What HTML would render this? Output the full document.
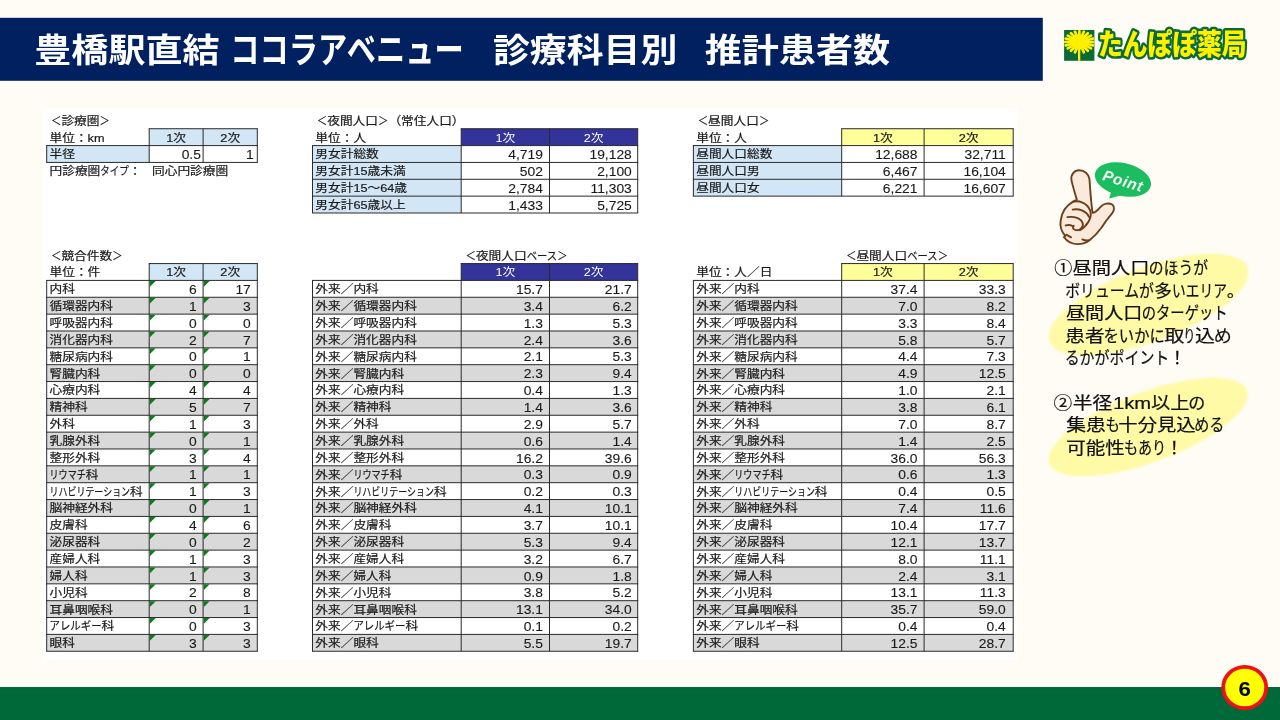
<!DOCTYPE html>
<html lang="ja"><head><meta charset="utf-8"><title>豊橋駅直結 ココラアベニュー 診療科目別 推計患者数</title>
<style>html,body{margin:0;padding:0;background:#FFFCF5;}body{width:1280px;height:720px;overflow:hidden;position:relative;font-family:'Liberation Sans','Noto Sans CJK JP',sans-serif;}svg{position:absolute;left:0;top:0;display:block}text{white-space:pre}</style>
</head><body>
<svg width="1280" height="720" viewBox="0 0 1280 720" font-family="'Liberation Sans','Noto Sans CJK JP',sans-serif">
<rect x="0" y="0" width="1280" height="720" fill="#FFFCF5"/>
<rect x="0" y="17.8" width="1042.8" height="63" fill="#002060"/>
<text x="34.3" y="62.0" font-size="33.50" font-weight="700" fill="#fff" textLength="185.3" lengthAdjust="spacingAndGlyphs">豊橋駅直結</text>
<text x="230.2" y="62.8" font-size="36.00" font-weight="700" fill="#fff" textLength="233.5" lengthAdjust="spacingAndGlyphs">ココラアベニュー</text>
<text x="492.9" y="62.0" font-size="33.50" font-weight="700" fill="#fff" textLength="184.4" lengthAdjust="spacingAndGlyphs">診療科目別</text>
<text x="704.7" y="62.0" font-size="33.50" font-weight="700" fill="#fff" textLength="185.5" lengthAdjust="spacingAndGlyphs">推計患者数</text>
<rect x="43" y="108.5" width="974.5" height="551.5" fill="#fff"/>
<rect x="149.20" y="128.72" width="108.10" height="16.86" fill="#D3E6F5"/>
<rect x="46.70" y="145.58" width="102.50" height="16.86" fill="#D3E6F5"/>
<rect x="461.20" y="128.72" width="176.50" height="16.86" fill="#333399"/>
<rect x="312.50" y="145.58" width="148.70" height="67.42" fill="#D3E6F5"/>
<rect x="841.70" y="128.72" width="171.50" height="16.86" fill="#FFFF99"/>
<rect x="693.40" y="145.58" width="148.30" height="50.57" fill="#D3E6F5"/>
<rect x="149.20" y="263.57" width="108.10" height="16.86" fill="#D3E6F5"/>
<rect x="461.20" y="263.57" width="176.50" height="16.86" fill="#333399"/>
<rect x="841.70" y="263.57" width="171.50" height="16.86" fill="#FFFF99"/>
<rect x="46.70" y="297.28" width="210.60" height="16.86" fill="#D9D9D9"/>
<rect x="312.50" y="297.28" width="325.20" height="16.86" fill="#D9D9D9"/>
<rect x="693.40" y="297.28" width="319.80" height="16.86" fill="#D9D9D9"/>
<rect x="46.70" y="330.99" width="210.60" height="16.86" fill="#D9D9D9"/>
<rect x="312.50" y="330.99" width="325.20" height="16.86" fill="#D9D9D9"/>
<rect x="693.40" y="330.99" width="319.80" height="16.86" fill="#D9D9D9"/>
<rect x="46.70" y="364.70" width="210.60" height="16.86" fill="#D9D9D9"/>
<rect x="312.50" y="364.70" width="325.20" height="16.86" fill="#D9D9D9"/>
<rect x="693.40" y="364.70" width="319.80" height="16.86" fill="#D9D9D9"/>
<rect x="46.70" y="398.42" width="210.60" height="16.86" fill="#D9D9D9"/>
<rect x="312.50" y="398.42" width="325.20" height="16.86" fill="#D9D9D9"/>
<rect x="693.40" y="398.42" width="319.80" height="16.86" fill="#D9D9D9"/>
<rect x="46.70" y="432.13" width="210.60" height="16.86" fill="#D9D9D9"/>
<rect x="312.50" y="432.13" width="325.20" height="16.86" fill="#D9D9D9"/>
<rect x="693.40" y="432.13" width="319.80" height="16.86" fill="#D9D9D9"/>
<rect x="46.70" y="465.84" width="210.60" height="16.86" fill="#D9D9D9"/>
<rect x="312.50" y="465.84" width="325.20" height="16.86" fill="#D9D9D9"/>
<rect x="693.40" y="465.84" width="319.80" height="16.86" fill="#D9D9D9"/>
<rect x="46.70" y="499.55" width="210.60" height="16.86" fill="#D9D9D9"/>
<rect x="312.50" y="499.55" width="325.20" height="16.86" fill="#D9D9D9"/>
<rect x="693.40" y="499.55" width="319.80" height="16.86" fill="#D9D9D9"/>
<rect x="46.70" y="533.26" width="210.60" height="16.86" fill="#D9D9D9"/>
<rect x="312.50" y="533.26" width="325.20" height="16.86" fill="#D9D9D9"/>
<rect x="693.40" y="533.26" width="319.80" height="16.86" fill="#D9D9D9"/>
<rect x="46.70" y="566.98" width="210.60" height="16.86" fill="#D9D9D9"/>
<rect x="312.50" y="566.98" width="325.20" height="16.86" fill="#D9D9D9"/>
<rect x="693.40" y="566.98" width="319.80" height="16.86" fill="#D9D9D9"/>
<rect x="46.70" y="600.69" width="210.60" height="16.86" fill="#D9D9D9"/>
<rect x="312.50" y="600.69" width="325.20" height="16.86" fill="#D9D9D9"/>
<rect x="693.40" y="600.69" width="319.80" height="16.86" fill="#D9D9D9"/>
<rect x="46.70" y="634.40" width="210.60" height="16.86" fill="#D9D9D9"/>
<rect x="312.50" y="634.40" width="325.20" height="16.86" fill="#D9D9D9"/>
<rect x="693.40" y="634.40" width="319.80" height="16.86" fill="#D9D9D9"/>
<line x1="46.20" y1="145.58" x2="257.80" y2="145.58" stroke="#2a2a2a" stroke-width="1.00"/>
<line x1="46.20" y1="162.43" x2="257.80" y2="162.43" stroke="#2a2a2a" stroke-width="1.00"/>
<line x1="46.70" y1="145.58" x2="46.70" y2="162.43" stroke="#2a2a2a" stroke-width="1.00"/>
<line x1="149.20" y1="145.58" x2="149.20" y2="162.43" stroke="#2a2a2a" stroke-width="1.00"/>
<line x1="203.10" y1="145.58" x2="203.10" y2="162.43" stroke="#2a2a2a" stroke-width="1.00"/>
<line x1="257.30" y1="145.58" x2="257.30" y2="162.43" stroke="#2a2a2a" stroke-width="1.00"/>
<line x1="148.70" y1="128.72" x2="257.80" y2="128.72" stroke="#2a2a2a" stroke-width="1.00"/>
<line x1="149.20" y1="128.72" x2="149.20" y2="145.58" stroke="#2a2a2a" stroke-width="1.00"/>
<line x1="203.10" y1="128.72" x2="203.10" y2="145.58" stroke="#2a2a2a" stroke-width="1.00"/>
<line x1="257.30" y1="128.72" x2="257.30" y2="145.58" stroke="#2a2a2a" stroke-width="1.00"/>
<line x1="312.00" y1="145.58" x2="638.20" y2="145.58" stroke="#2a2a2a" stroke-width="1.00"/>
<line x1="312.00" y1="162.43" x2="638.20" y2="162.43" stroke="#2a2a2a" stroke-width="1.00"/>
<line x1="312.00" y1="179.29" x2="638.20" y2="179.29" stroke="#2a2a2a" stroke-width="1.00"/>
<line x1="312.00" y1="196.14" x2="638.20" y2="196.14" stroke="#2a2a2a" stroke-width="1.00"/>
<line x1="312.00" y1="213.00" x2="638.20" y2="213.00" stroke="#2a2a2a" stroke-width="1.00"/>
<line x1="312.50" y1="145.58" x2="312.50" y2="213.00" stroke="#2a2a2a" stroke-width="1.00"/>
<line x1="461.20" y1="145.58" x2="461.20" y2="213.00" stroke="#2a2a2a" stroke-width="1.00"/>
<line x1="549.50" y1="145.58" x2="549.50" y2="213.00" stroke="#2a2a2a" stroke-width="1.00"/>
<line x1="637.70" y1="145.58" x2="637.70" y2="213.00" stroke="#2a2a2a" stroke-width="1.00"/>
<line x1="460.70" y1="128.72" x2="638.20" y2="128.72" stroke="#2a2a2a" stroke-width="1.00"/>
<line x1="461.20" y1="128.72" x2="461.20" y2="145.58" stroke="#2a2a2a" stroke-width="1.00"/>
<line x1="549.50" y1="128.72" x2="549.50" y2="145.58" stroke="#2a2a2a" stroke-width="1.00"/>
<line x1="637.70" y1="128.72" x2="637.70" y2="145.58" stroke="#2a2a2a" stroke-width="1.00"/>
<line x1="692.90" y1="145.58" x2="1013.70" y2="145.58" stroke="#2a2a2a" stroke-width="1.00"/>
<line x1="692.90" y1="162.43" x2="1013.70" y2="162.43" stroke="#2a2a2a" stroke-width="1.00"/>
<line x1="692.90" y1="179.29" x2="1013.70" y2="179.29" stroke="#2a2a2a" stroke-width="1.00"/>
<line x1="692.90" y1="196.14" x2="1013.70" y2="196.14" stroke="#2a2a2a" stroke-width="1.00"/>
<line x1="693.40" y1="145.58" x2="693.40" y2="196.14" stroke="#2a2a2a" stroke-width="1.00"/>
<line x1="841.70" y1="145.58" x2="841.70" y2="196.14" stroke="#2a2a2a" stroke-width="1.00"/>
<line x1="924.10" y1="145.58" x2="924.10" y2="196.14" stroke="#2a2a2a" stroke-width="1.00"/>
<line x1="1013.20" y1="145.58" x2="1013.20" y2="196.14" stroke="#2a2a2a" stroke-width="1.00"/>
<line x1="841.20" y1="128.72" x2="1013.70" y2="128.72" stroke="#2a2a2a" stroke-width="1.00"/>
<line x1="841.70" y1="128.72" x2="841.70" y2="145.58" stroke="#2a2a2a" stroke-width="1.00"/>
<line x1="924.10" y1="128.72" x2="924.10" y2="145.58" stroke="#2a2a2a" stroke-width="1.00"/>
<line x1="1013.20" y1="128.72" x2="1013.20" y2="145.58" stroke="#2a2a2a" stroke-width="1.00"/>
<line x1="46.20" y1="280.42" x2="257.80" y2="280.42" stroke="#2a2a2a" stroke-width="1.00"/>
<line x1="46.20" y1="297.28" x2="257.80" y2="297.28" stroke="#2a2a2a" stroke-width="1.00"/>
<line x1="46.20" y1="314.14" x2="257.80" y2="314.14" stroke="#2a2a2a" stroke-width="1.00"/>
<line x1="46.20" y1="330.99" x2="257.80" y2="330.99" stroke="#2a2a2a" stroke-width="1.00"/>
<line x1="46.20" y1="347.85" x2="257.80" y2="347.85" stroke="#2a2a2a" stroke-width="1.00"/>
<line x1="46.20" y1="364.70" x2="257.80" y2="364.70" stroke="#2a2a2a" stroke-width="1.00"/>
<line x1="46.20" y1="381.56" x2="257.80" y2="381.56" stroke="#2a2a2a" stroke-width="1.00"/>
<line x1="46.20" y1="398.42" x2="257.80" y2="398.42" stroke="#2a2a2a" stroke-width="1.00"/>
<line x1="46.20" y1="415.27" x2="257.80" y2="415.27" stroke="#2a2a2a" stroke-width="1.00"/>
<line x1="46.20" y1="432.13" x2="257.80" y2="432.13" stroke="#2a2a2a" stroke-width="1.00"/>
<line x1="46.20" y1="448.98" x2="257.80" y2="448.98" stroke="#2a2a2a" stroke-width="1.00"/>
<line x1="46.20" y1="465.84" x2="257.80" y2="465.84" stroke="#2a2a2a" stroke-width="1.00"/>
<line x1="46.20" y1="482.70" x2="257.80" y2="482.70" stroke="#2a2a2a" stroke-width="1.00"/>
<line x1="46.20" y1="499.55" x2="257.80" y2="499.55" stroke="#2a2a2a" stroke-width="1.00"/>
<line x1="46.20" y1="516.41" x2="257.80" y2="516.41" stroke="#2a2a2a" stroke-width="1.00"/>
<line x1="46.20" y1="533.26" x2="257.80" y2="533.26" stroke="#2a2a2a" stroke-width="1.00"/>
<line x1="46.20" y1="550.12" x2="257.80" y2="550.12" stroke="#2a2a2a" stroke-width="1.00"/>
<line x1="46.20" y1="566.98" x2="257.80" y2="566.98" stroke="#2a2a2a" stroke-width="1.00"/>
<line x1="46.20" y1="583.83" x2="257.80" y2="583.83" stroke="#2a2a2a" stroke-width="1.00"/>
<line x1="46.20" y1="600.69" x2="257.80" y2="600.69" stroke="#2a2a2a" stroke-width="1.00"/>
<line x1="46.20" y1="617.54" x2="257.80" y2="617.54" stroke="#2a2a2a" stroke-width="1.00"/>
<line x1="46.20" y1="634.40" x2="257.80" y2="634.40" stroke="#2a2a2a" stroke-width="1.00"/>
<line x1="46.20" y1="651.26" x2="257.80" y2="651.26" stroke="#2a2a2a" stroke-width="1.00"/>
<line x1="46.70" y1="280.42" x2="46.70" y2="651.26" stroke="#2a2a2a" stroke-width="1.00"/>
<line x1="149.20" y1="280.42" x2="149.20" y2="651.26" stroke="#2a2a2a" stroke-width="1.00"/>
<line x1="203.10" y1="280.42" x2="203.10" y2="651.26" stroke="#2a2a2a" stroke-width="1.00"/>
<line x1="257.30" y1="280.42" x2="257.30" y2="651.26" stroke="#2a2a2a" stroke-width="1.00"/>
<line x1="148.70" y1="263.57" x2="257.80" y2="263.57" stroke="#2a2a2a" stroke-width="1.00"/>
<line x1="149.20" y1="263.57" x2="149.20" y2="280.42" stroke="#2a2a2a" stroke-width="1.00"/>
<line x1="203.10" y1="263.57" x2="203.10" y2="280.42" stroke="#2a2a2a" stroke-width="1.00"/>
<line x1="257.30" y1="263.57" x2="257.30" y2="280.42" stroke="#2a2a2a" stroke-width="1.00"/>
<line x1="312.00" y1="280.42" x2="638.20" y2="280.42" stroke="#2a2a2a" stroke-width="1.00"/>
<line x1="312.00" y1="297.28" x2="638.20" y2="297.28" stroke="#2a2a2a" stroke-width="1.00"/>
<line x1="312.00" y1="314.14" x2="638.20" y2="314.14" stroke="#2a2a2a" stroke-width="1.00"/>
<line x1="312.00" y1="330.99" x2="638.20" y2="330.99" stroke="#2a2a2a" stroke-width="1.00"/>
<line x1="312.00" y1="347.85" x2="638.20" y2="347.85" stroke="#2a2a2a" stroke-width="1.00"/>
<line x1="312.00" y1="364.70" x2="638.20" y2="364.70" stroke="#2a2a2a" stroke-width="1.00"/>
<line x1="312.00" y1="381.56" x2="638.20" y2="381.56" stroke="#2a2a2a" stroke-width="1.00"/>
<line x1="312.00" y1="398.42" x2="638.20" y2="398.42" stroke="#2a2a2a" stroke-width="1.00"/>
<line x1="312.00" y1="415.27" x2="638.20" y2="415.27" stroke="#2a2a2a" stroke-width="1.00"/>
<line x1="312.00" y1="432.13" x2="638.20" y2="432.13" stroke="#2a2a2a" stroke-width="1.00"/>
<line x1="312.00" y1="448.98" x2="638.20" y2="448.98" stroke="#2a2a2a" stroke-width="1.00"/>
<line x1="312.00" y1="465.84" x2="638.20" y2="465.84" stroke="#2a2a2a" stroke-width="1.00"/>
<line x1="312.00" y1="482.70" x2="638.20" y2="482.70" stroke="#2a2a2a" stroke-width="1.00"/>
<line x1="312.00" y1="499.55" x2="638.20" y2="499.55" stroke="#2a2a2a" stroke-width="1.00"/>
<line x1="312.00" y1="516.41" x2="638.20" y2="516.41" stroke="#2a2a2a" stroke-width="1.00"/>
<line x1="312.00" y1="533.26" x2="638.20" y2="533.26" stroke="#2a2a2a" stroke-width="1.00"/>
<line x1="312.00" y1="550.12" x2="638.20" y2="550.12" stroke="#2a2a2a" stroke-width="1.00"/>
<line x1="312.00" y1="566.98" x2="638.20" y2="566.98" stroke="#2a2a2a" stroke-width="1.00"/>
<line x1="312.00" y1="583.83" x2="638.20" y2="583.83" stroke="#2a2a2a" stroke-width="1.00"/>
<line x1="312.00" y1="600.69" x2="638.20" y2="600.69" stroke="#2a2a2a" stroke-width="1.00"/>
<line x1="312.00" y1="617.54" x2="638.20" y2="617.54" stroke="#2a2a2a" stroke-width="1.00"/>
<line x1="312.00" y1="634.40" x2="638.20" y2="634.40" stroke="#2a2a2a" stroke-width="1.00"/>
<line x1="312.00" y1="651.26" x2="638.20" y2="651.26" stroke="#2a2a2a" stroke-width="1.00"/>
<line x1="312.50" y1="280.42" x2="312.50" y2="651.26" stroke="#2a2a2a" stroke-width="1.00"/>
<line x1="461.20" y1="280.42" x2="461.20" y2="651.26" stroke="#2a2a2a" stroke-width="1.00"/>
<line x1="549.50" y1="280.42" x2="549.50" y2="651.26" stroke="#2a2a2a" stroke-width="1.00"/>
<line x1="637.70" y1="280.42" x2="637.70" y2="651.26" stroke="#2a2a2a" stroke-width="1.00"/>
<line x1="460.70" y1="263.57" x2="638.20" y2="263.57" stroke="#2a2a2a" stroke-width="1.00"/>
<line x1="461.20" y1="263.57" x2="461.20" y2="280.42" stroke="#2a2a2a" stroke-width="1.00"/>
<line x1="549.50" y1="263.57" x2="549.50" y2="280.42" stroke="#2a2a2a" stroke-width="1.00"/>
<line x1="637.70" y1="263.57" x2="637.70" y2="280.42" stroke="#2a2a2a" stroke-width="1.00"/>
<line x1="692.90" y1="280.42" x2="1013.70" y2="280.42" stroke="#2a2a2a" stroke-width="1.00"/>
<line x1="692.90" y1="297.28" x2="1013.70" y2="297.28" stroke="#2a2a2a" stroke-width="1.00"/>
<line x1="692.90" y1="314.14" x2="1013.70" y2="314.14" stroke="#2a2a2a" stroke-width="1.00"/>
<line x1="692.90" y1="330.99" x2="1013.70" y2="330.99" stroke="#2a2a2a" stroke-width="1.00"/>
<line x1="692.90" y1="347.85" x2="1013.70" y2="347.85" stroke="#2a2a2a" stroke-width="1.00"/>
<line x1="692.90" y1="364.70" x2="1013.70" y2="364.70" stroke="#2a2a2a" stroke-width="1.00"/>
<line x1="692.90" y1="381.56" x2="1013.70" y2="381.56" stroke="#2a2a2a" stroke-width="1.00"/>
<line x1="692.90" y1="398.42" x2="1013.70" y2="398.42" stroke="#2a2a2a" stroke-width="1.00"/>
<line x1="692.90" y1="415.27" x2="1013.70" y2="415.27" stroke="#2a2a2a" stroke-width="1.00"/>
<line x1="692.90" y1="432.13" x2="1013.70" y2="432.13" stroke="#2a2a2a" stroke-width="1.00"/>
<line x1="692.90" y1="448.98" x2="1013.70" y2="448.98" stroke="#2a2a2a" stroke-width="1.00"/>
<line x1="692.90" y1="465.84" x2="1013.70" y2="465.84" stroke="#2a2a2a" stroke-width="1.00"/>
<line x1="692.90" y1="482.70" x2="1013.70" y2="482.70" stroke="#2a2a2a" stroke-width="1.00"/>
<line x1="692.90" y1="499.55" x2="1013.70" y2="499.55" stroke="#2a2a2a" stroke-width="1.00"/>
<line x1="692.90" y1="516.41" x2="1013.70" y2="516.41" stroke="#2a2a2a" stroke-width="1.00"/>
<line x1="692.90" y1="533.26" x2="1013.70" y2="533.26" stroke="#2a2a2a" stroke-width="1.00"/>
<line x1="692.90" y1="550.12" x2="1013.70" y2="550.12" stroke="#2a2a2a" stroke-width="1.00"/>
<line x1="692.90" y1="566.98" x2="1013.70" y2="566.98" stroke="#2a2a2a" stroke-width="1.00"/>
<line x1="692.90" y1="583.83" x2="1013.70" y2="583.83" stroke="#2a2a2a" stroke-width="1.00"/>
<line x1="692.90" y1="600.69" x2="1013.70" y2="600.69" stroke="#2a2a2a" stroke-width="1.00"/>
<line x1="692.90" y1="617.54" x2="1013.70" y2="617.54" stroke="#2a2a2a" stroke-width="1.00"/>
<line x1="692.90" y1="634.40" x2="1013.70" y2="634.40" stroke="#2a2a2a" stroke-width="1.00"/>
<line x1="692.90" y1="651.26" x2="1013.70" y2="651.26" stroke="#2a2a2a" stroke-width="1.00"/>
<line x1="693.40" y1="280.42" x2="693.40" y2="651.26" stroke="#2a2a2a" stroke-width="1.00"/>
<line x1="841.70" y1="280.42" x2="841.70" y2="651.26" stroke="#2a2a2a" stroke-width="1.00"/>
<line x1="924.10" y1="280.42" x2="924.10" y2="651.26" stroke="#2a2a2a" stroke-width="1.00"/>
<line x1="1013.20" y1="280.42" x2="1013.20" y2="651.26" stroke="#2a2a2a" stroke-width="1.00"/>
<line x1="841.20" y1="263.57" x2="1013.70" y2="263.57" stroke="#2a2a2a" stroke-width="1.00"/>
<line x1="841.70" y1="263.57" x2="841.70" y2="280.42" stroke="#2a2a2a" stroke-width="1.00"/>
<line x1="924.10" y1="263.57" x2="924.10" y2="280.42" stroke="#2a2a2a" stroke-width="1.00"/>
<line x1="1013.20" y1="263.57" x2="1013.20" y2="280.42" stroke="#2a2a2a" stroke-width="1.00"/>
<path d="M149.70 280.92 h6 l-6 6z" fill="#0d7a1e"/>
<path d="M203.60 280.92 h6 l-6 6z" fill="#0d7a1e"/>
<path d="M149.70 297.78 h6 l-6 6z" fill="#0d7a1e"/>
<path d="M203.60 297.78 h6 l-6 6z" fill="#0d7a1e"/>
<path d="M149.70 314.64 h6 l-6 6z" fill="#0d7a1e"/>
<path d="M203.60 314.64 h6 l-6 6z" fill="#0d7a1e"/>
<path d="M149.70 331.49 h6 l-6 6z" fill="#0d7a1e"/>
<path d="M203.60 331.49 h6 l-6 6z" fill="#0d7a1e"/>
<path d="M149.70 348.35 h6 l-6 6z" fill="#0d7a1e"/>
<path d="M203.60 348.35 h6 l-6 6z" fill="#0d7a1e"/>
<path d="M149.70 365.20 h6 l-6 6z" fill="#0d7a1e"/>
<path d="M203.60 365.20 h6 l-6 6z" fill="#0d7a1e"/>
<path d="M149.70 382.06 h6 l-6 6z" fill="#0d7a1e"/>
<path d="M203.60 382.06 h6 l-6 6z" fill="#0d7a1e"/>
<path d="M149.70 398.92 h6 l-6 6z" fill="#0d7a1e"/>
<path d="M203.60 398.92 h6 l-6 6z" fill="#0d7a1e"/>
<path d="M149.70 415.77 h6 l-6 6z" fill="#0d7a1e"/>
<path d="M203.60 415.77 h6 l-6 6z" fill="#0d7a1e"/>
<path d="M149.70 432.63 h6 l-6 6z" fill="#0d7a1e"/>
<path d="M203.60 432.63 h6 l-6 6z" fill="#0d7a1e"/>
<path d="M149.70 449.48 h6 l-6 6z" fill="#0d7a1e"/>
<path d="M203.60 449.48 h6 l-6 6z" fill="#0d7a1e"/>
<path d="M149.70 466.34 h6 l-6 6z" fill="#0d7a1e"/>
<path d="M203.60 466.34 h6 l-6 6z" fill="#0d7a1e"/>
<path d="M149.70 483.20 h6 l-6 6z" fill="#0d7a1e"/>
<path d="M203.60 483.20 h6 l-6 6z" fill="#0d7a1e"/>
<path d="M149.70 500.05 h6 l-6 6z" fill="#0d7a1e"/>
<path d="M203.60 500.05 h6 l-6 6z" fill="#0d7a1e"/>
<path d="M149.70 516.91 h6 l-6 6z" fill="#0d7a1e"/>
<path d="M203.60 516.91 h6 l-6 6z" fill="#0d7a1e"/>
<path d="M149.70 533.76 h6 l-6 6z" fill="#0d7a1e"/>
<path d="M203.60 533.76 h6 l-6 6z" fill="#0d7a1e"/>
<path d="M149.70 550.62 h6 l-6 6z" fill="#0d7a1e"/>
<path d="M203.60 550.62 h6 l-6 6z" fill="#0d7a1e"/>
<path d="M149.70 567.48 h6 l-6 6z" fill="#0d7a1e"/>
<path d="M203.60 567.48 h6 l-6 6z" fill="#0d7a1e"/>
<path d="M149.70 584.33 h6 l-6 6z" fill="#0d7a1e"/>
<path d="M203.60 584.33 h6 l-6 6z" fill="#0d7a1e"/>
<path d="M149.70 601.19 h6 l-6 6z" fill="#0d7a1e"/>
<path d="M203.60 601.19 h6 l-6 6z" fill="#0d7a1e"/>
<path d="M149.70 618.04 h6 l-6 6z" fill="#0d7a1e"/>
<path d="M203.60 618.04 h6 l-6 6z" fill="#0d7a1e"/>
<path d="M149.70 634.90 h6 l-6 6z" fill="#0d7a1e"/>
<path d="M203.60 634.90 h6 l-6 6z" fill="#0d7a1e"/>
<text transform="translate(51.00 124.76) scale(1.0948 1)" font-size="11.60" fill="#1a1a1a" stroke="#1a1a1a" stroke-width="0.20"><tspan textLength="9.51" lengthAdjust="spacingAndGlyphs">＜</tspan>診療圏<tspan textLength="9.51" lengthAdjust="spacingAndGlyphs">＞</tspan></text>
<text transform="translate(49.50 141.62) scale(1.0948 1)" font-size="11.60" fill="#1a1a1a" stroke="#1a1a1a" stroke-width="0.20">単位：km</text>
<text transform="translate(176.15 141.62) scale(1.0948 1)" font-size="11.60" fill="#1a1a1a" stroke="#1a1a1a" stroke-width="0.20" text-anchor="middle">1次</text>
<text transform="translate(230.20 141.62) scale(1.0948 1)" font-size="11.60" fill="#1a1a1a" stroke="#1a1a1a" stroke-width="0.20" text-anchor="middle">2次</text>
<text transform="translate(49.50 158.48) scale(1.0948 1)" font-size="11.60" fill="#1a1a1a" stroke="#1a1a1a" stroke-width="0.20">半径</text>
<text transform="translate(200.90 159.18) scale(1.100 1)" font-size="12.60" fill="#1a1a1a" stroke="#1a1a1a" stroke-width="0.10" text-anchor="end">0.5</text>
<text transform="translate(253.70 159.18) scale(1.100 1)" font-size="12.60" fill="#1a1a1a" stroke="#1a1a1a" stroke-width="0.10" text-anchor="end">1</text>
<text transform="translate(49.50 175.33) scale(1.0948 1)" font-size="11.60" fill="#1a1a1a" stroke="#1a1a1a" stroke-width="0.20">円診療圏<tspan textLength="26.10" lengthAdjust="spacingAndGlyphs">タイプ</tspan>：</text>
<text transform="translate(152.00 175.33) scale(1.0948 1)" font-size="11.60" fill="#1a1a1a" stroke="#1a1a1a" stroke-width="0.20">同心円診療圏</text>
<text transform="translate(316.80 124.76) scale(1.0948 1)" font-size="11.60" fill="#1a1a1a" stroke="#1a1a1a" stroke-width="0.20"><tspan textLength="9.51" lengthAdjust="spacingAndGlyphs">＜</tspan>夜間人口<tspan textLength="9.51" lengthAdjust="spacingAndGlyphs">＞</tspan>（常住人口）</text>
<text transform="translate(315.30 141.62) scale(1.0948 1)" font-size="11.60" fill="#1a1a1a" stroke="#1a1a1a" stroke-width="0.20">単位：人</text>
<text transform="translate(505.35 141.62) scale(1.0948 1)" font-size="11.60" fill="#fff" stroke="#fff" stroke-width="0.00" text-anchor="middle">1次</text>
<text transform="translate(593.60 141.62) scale(1.0948 1)" font-size="11.60" fill="#fff" stroke="#fff" stroke-width="0.00" text-anchor="middle">2次</text>
<text transform="translate(315.30 158.48) scale(1.0948 1)" font-size="11.60" fill="#1a1a1a" stroke="#1a1a1a" stroke-width="0.20">男女計総数</text>
<text transform="translate(542.90 159.18) scale(1.100 1)" font-size="12.60" fill="#1a1a1a" stroke="#1a1a1a" stroke-width="0.10" text-anchor="end">4,719</text>
<text transform="translate(631.80 159.18) scale(1.100 1)" font-size="12.60" fill="#1a1a1a" stroke="#1a1a1a" stroke-width="0.10" text-anchor="end">19,128</text>
<text transform="translate(315.30 175.33) scale(1.0948 1)" font-size="11.60" fill="#1a1a1a" stroke="#1a1a1a" stroke-width="0.20">男女計15歳未満</text>
<text transform="translate(542.90 176.03) scale(1.100 1)" font-size="12.60" fill="#1a1a1a" stroke="#1a1a1a" stroke-width="0.10" text-anchor="end">502</text>
<text transform="translate(631.80 176.03) scale(1.100 1)" font-size="12.60" fill="#1a1a1a" stroke="#1a1a1a" stroke-width="0.10" text-anchor="end">2,100</text>
<text transform="translate(315.30 192.19) scale(1.0948 1)" font-size="11.60" fill="#1a1a1a" stroke="#1a1a1a" stroke-width="0.20">男女計15～64歳</text>
<text transform="translate(542.90 192.89) scale(1.100 1)" font-size="12.60" fill="#1a1a1a" stroke="#1a1a1a" stroke-width="0.10" text-anchor="end">2,784</text>
<text transform="translate(631.80 192.89) scale(1.100 1)" font-size="12.60" fill="#1a1a1a" stroke="#1a1a1a" stroke-width="0.10" text-anchor="end">11,303</text>
<text transform="translate(315.30 209.04) scale(1.0948 1)" font-size="11.60" fill="#1a1a1a" stroke="#1a1a1a" stroke-width="0.20">男女計65歳以上</text>
<text transform="translate(542.90 209.74) scale(1.100 1)" font-size="12.60" fill="#1a1a1a" stroke="#1a1a1a" stroke-width="0.10" text-anchor="end">1,433</text>
<text transform="translate(631.80 209.74) scale(1.100 1)" font-size="12.60" fill="#1a1a1a" stroke="#1a1a1a" stroke-width="0.10" text-anchor="end">5,725</text>
<text transform="translate(697.70 124.76) scale(1.0948 1)" font-size="11.60" fill="#1a1a1a" stroke="#1a1a1a" stroke-width="0.20"><tspan textLength="9.51" lengthAdjust="spacingAndGlyphs">＜</tspan>昼間人口<tspan textLength="9.51" lengthAdjust="spacingAndGlyphs">＞</tspan></text>
<text transform="translate(696.20 141.62) scale(1.0948 1)" font-size="11.60" fill="#1a1a1a" stroke="#1a1a1a" stroke-width="0.20">単位：人</text>
<text transform="translate(882.90 141.62) scale(1.0948 1)" font-size="11.60" fill="#1a1a1a" stroke="#1a1a1a" stroke-width="0.20" text-anchor="middle">1次</text>
<text transform="translate(968.65 141.62) scale(1.0948 1)" font-size="11.60" fill="#1a1a1a" stroke="#1a1a1a" stroke-width="0.20" text-anchor="middle">2次</text>
<text transform="translate(696.20 158.48) scale(1.0948 1)" font-size="11.60" fill="#1a1a1a" stroke="#1a1a1a" stroke-width="0.20">昼間人口総数</text>
<text transform="translate(917.50 159.18) scale(1.100 1)" font-size="12.60" fill="#1a1a1a" stroke="#1a1a1a" stroke-width="0.10" text-anchor="end">12,688</text>
<text transform="translate(1005.80 159.18) scale(1.100 1)" font-size="12.60" fill="#1a1a1a" stroke="#1a1a1a" stroke-width="0.10" text-anchor="end">32,711</text>
<text transform="translate(696.20 175.33) scale(1.0948 1)" font-size="11.60" fill="#1a1a1a" stroke="#1a1a1a" stroke-width="0.20">昼間人口男</text>
<text transform="translate(917.50 176.03) scale(1.100 1)" font-size="12.60" fill="#1a1a1a" stroke="#1a1a1a" stroke-width="0.10" text-anchor="end">6,467</text>
<text transform="translate(1005.80 176.03) scale(1.100 1)" font-size="12.60" fill="#1a1a1a" stroke="#1a1a1a" stroke-width="0.10" text-anchor="end">16,104</text>
<text transform="translate(696.20 192.19) scale(1.0948 1)" font-size="11.60" fill="#1a1a1a" stroke="#1a1a1a" stroke-width="0.20">昼間人口女</text>
<text transform="translate(917.50 192.89) scale(1.100 1)" font-size="12.60" fill="#1a1a1a" stroke="#1a1a1a" stroke-width="0.10" text-anchor="end">6,221</text>
<text transform="translate(1005.80 192.89) scale(1.100 1)" font-size="12.60" fill="#1a1a1a" stroke="#1a1a1a" stroke-width="0.10" text-anchor="end">16,607</text>
<text transform="translate(51.00 259.61) scale(1.0948 1)" font-size="11.60" fill="#1a1a1a" stroke="#1a1a1a" stroke-width="0.20"><tspan textLength="9.51" lengthAdjust="spacingAndGlyphs">＜</tspan>競合件数<tspan textLength="9.51" lengthAdjust="spacingAndGlyphs">＞</tspan></text>
<text transform="translate(49.50 276.47) scale(1.0948 1)" font-size="11.60" fill="#1a1a1a" stroke="#1a1a1a" stroke-width="0.20">単位：件</text>
<text transform="translate(176.15 276.47) scale(1.0948 1)" font-size="11.60" fill="#1a1a1a" stroke="#1a1a1a" stroke-width="0.20" text-anchor="middle">1次</text>
<text transform="translate(230.20 276.47) scale(1.0948 1)" font-size="11.60" fill="#1a1a1a" stroke="#1a1a1a" stroke-width="0.20" text-anchor="middle">2次</text>
<text transform="translate(49.50 293.32) scale(1.0948 1)" font-size="11.60" fill="#1a1a1a" stroke="#1a1a1a" stroke-width="0.20">内科</text>
<text transform="translate(196.80 294.02) scale(1.100 1)" font-size="12.60" fill="#1a1a1a" stroke="#1a1a1a" stroke-width="0.10" text-anchor="end">6</text>
<text transform="translate(250.80 294.02) scale(1.100 1)" font-size="12.60" fill="#1a1a1a" stroke="#1a1a1a" stroke-width="0.10" text-anchor="end">17</text>
<text transform="translate(49.50 310.18) scale(1.0948 1)" font-size="11.60" fill="#1a1a1a" stroke="#1a1a1a" stroke-width="0.20">循環器内科</text>
<text transform="translate(196.80 310.88) scale(1.100 1)" font-size="12.60" fill="#1a1a1a" stroke="#1a1a1a" stroke-width="0.10" text-anchor="end">1</text>
<text transform="translate(250.80 310.88) scale(1.100 1)" font-size="12.60" fill="#1a1a1a" stroke="#1a1a1a" stroke-width="0.10" text-anchor="end">3</text>
<text transform="translate(49.50 327.04) scale(1.0948 1)" font-size="11.60" fill="#1a1a1a" stroke="#1a1a1a" stroke-width="0.20">呼吸器内科</text>
<text transform="translate(196.80 327.74) scale(1.100 1)" font-size="12.60" fill="#1a1a1a" stroke="#1a1a1a" stroke-width="0.10" text-anchor="end">0</text>
<text transform="translate(250.80 327.74) scale(1.100 1)" font-size="12.60" fill="#1a1a1a" stroke="#1a1a1a" stroke-width="0.10" text-anchor="end">0</text>
<text transform="translate(49.50 343.89) scale(1.0948 1)" font-size="11.60" fill="#1a1a1a" stroke="#1a1a1a" stroke-width="0.20">消化器内科</text>
<text transform="translate(196.80 344.59) scale(1.100 1)" font-size="12.60" fill="#1a1a1a" stroke="#1a1a1a" stroke-width="0.10" text-anchor="end">2</text>
<text transform="translate(250.80 344.59) scale(1.100 1)" font-size="12.60" fill="#1a1a1a" stroke="#1a1a1a" stroke-width="0.10" text-anchor="end">7</text>
<text transform="translate(49.50 360.75) scale(1.0948 1)" font-size="11.60" fill="#1a1a1a" stroke="#1a1a1a" stroke-width="0.20">糖尿病内科</text>
<text transform="translate(196.80 361.45) scale(1.100 1)" font-size="12.60" fill="#1a1a1a" stroke="#1a1a1a" stroke-width="0.10" text-anchor="end">0</text>
<text transform="translate(250.80 361.45) scale(1.100 1)" font-size="12.60" fill="#1a1a1a" stroke="#1a1a1a" stroke-width="0.10" text-anchor="end">1</text>
<text transform="translate(49.50 377.60) scale(1.0948 1)" font-size="11.60" fill="#1a1a1a" stroke="#1a1a1a" stroke-width="0.20">腎臓内科</text>
<text transform="translate(196.80 378.30) scale(1.100 1)" font-size="12.60" fill="#1a1a1a" stroke="#1a1a1a" stroke-width="0.10" text-anchor="end">0</text>
<text transform="translate(250.80 378.30) scale(1.100 1)" font-size="12.60" fill="#1a1a1a" stroke="#1a1a1a" stroke-width="0.10" text-anchor="end">0</text>
<text transform="translate(49.50 394.46) scale(1.0948 1)" font-size="11.60" fill="#1a1a1a" stroke="#1a1a1a" stroke-width="0.20">心療内科</text>
<text transform="translate(196.80 395.16) scale(1.100 1)" font-size="12.60" fill="#1a1a1a" stroke="#1a1a1a" stroke-width="0.10" text-anchor="end">4</text>
<text transform="translate(250.80 395.16) scale(1.100 1)" font-size="12.60" fill="#1a1a1a" stroke="#1a1a1a" stroke-width="0.10" text-anchor="end">4</text>
<text transform="translate(49.50 411.32) scale(1.0948 1)" font-size="11.60" fill="#1a1a1a" stroke="#1a1a1a" stroke-width="0.20">精神科</text>
<text transform="translate(196.80 412.02) scale(1.100 1)" font-size="12.60" fill="#1a1a1a" stroke="#1a1a1a" stroke-width="0.10" text-anchor="end">5</text>
<text transform="translate(250.80 412.02) scale(1.100 1)" font-size="12.60" fill="#1a1a1a" stroke="#1a1a1a" stroke-width="0.10" text-anchor="end">7</text>
<text transform="translate(49.50 428.17) scale(1.0948 1)" font-size="11.60" fill="#1a1a1a" stroke="#1a1a1a" stroke-width="0.20">外科</text>
<text transform="translate(196.80 428.87) scale(1.100 1)" font-size="12.60" fill="#1a1a1a" stroke="#1a1a1a" stroke-width="0.10" text-anchor="end">1</text>
<text transform="translate(250.80 428.87) scale(1.100 1)" font-size="12.60" fill="#1a1a1a" stroke="#1a1a1a" stroke-width="0.10" text-anchor="end">3</text>
<text transform="translate(49.50 445.03) scale(1.0948 1)" font-size="11.60" fill="#1a1a1a" stroke="#1a1a1a" stroke-width="0.20">乳腺外科</text>
<text transform="translate(196.80 445.73) scale(1.100 1)" font-size="12.60" fill="#1a1a1a" stroke="#1a1a1a" stroke-width="0.10" text-anchor="end">0</text>
<text transform="translate(250.80 445.73) scale(1.100 1)" font-size="12.60" fill="#1a1a1a" stroke="#1a1a1a" stroke-width="0.10" text-anchor="end">1</text>
<text transform="translate(49.50 461.88) scale(1.0948 1)" font-size="11.60" fill="#1a1a1a" stroke="#1a1a1a" stroke-width="0.20">整形外科</text>
<text transform="translate(196.80 462.58) scale(1.100 1)" font-size="12.60" fill="#1a1a1a" stroke="#1a1a1a" stroke-width="0.10" text-anchor="end">3</text>
<text transform="translate(250.80 462.58) scale(1.100 1)" font-size="12.60" fill="#1a1a1a" stroke="#1a1a1a" stroke-width="0.10" text-anchor="end">4</text>
<text transform="translate(49.50 478.74) scale(1.0948 1)" font-size="11.60" fill="#1a1a1a" stroke="#1a1a1a" stroke-width="0.20"><tspan textLength="33.18" lengthAdjust="spacingAndGlyphs">リウマチ</tspan>科</text>
<text transform="translate(196.80 479.44) scale(1.100 1)" font-size="12.60" fill="#1a1a1a" stroke="#1a1a1a" stroke-width="0.10" text-anchor="end">1</text>
<text transform="translate(250.80 479.44) scale(1.100 1)" font-size="12.60" fill="#1a1a1a" stroke="#1a1a1a" stroke-width="0.10" text-anchor="end">1</text>
<text transform="translate(49.50 495.60) scale(1.0948 1)" font-size="11.60" fill="#1a1a1a" stroke="#1a1a1a" stroke-width="0.20"><tspan textLength="73.60" lengthAdjust="spacingAndGlyphs">リハビリテーション</tspan>科</text>
<text transform="translate(196.80 496.30) scale(1.100 1)" font-size="12.60" fill="#1a1a1a" stroke="#1a1a1a" stroke-width="0.10" text-anchor="end">1</text>
<text transform="translate(250.80 496.30) scale(1.100 1)" font-size="12.60" fill="#1a1a1a" stroke="#1a1a1a" stroke-width="0.10" text-anchor="end">3</text>
<text transform="translate(49.50 512.45) scale(1.0948 1)" font-size="11.60" fill="#1a1a1a" stroke="#1a1a1a" stroke-width="0.20">脳神経外科</text>
<text transform="translate(196.80 513.15) scale(1.100 1)" font-size="12.60" fill="#1a1a1a" stroke="#1a1a1a" stroke-width="0.10" text-anchor="end">0</text>
<text transform="translate(250.80 513.15) scale(1.100 1)" font-size="12.60" fill="#1a1a1a" stroke="#1a1a1a" stroke-width="0.10" text-anchor="end">1</text>
<text transform="translate(49.50 529.31) scale(1.0948 1)" font-size="11.60" fill="#1a1a1a" stroke="#1a1a1a" stroke-width="0.20">皮膚科</text>
<text transform="translate(196.80 530.01) scale(1.100 1)" font-size="12.60" fill="#1a1a1a" stroke="#1a1a1a" stroke-width="0.10" text-anchor="end">4</text>
<text transform="translate(250.80 530.01) scale(1.100 1)" font-size="12.60" fill="#1a1a1a" stroke="#1a1a1a" stroke-width="0.10" text-anchor="end">6</text>
<text transform="translate(49.50 546.16) scale(1.0948 1)" font-size="11.60" fill="#1a1a1a" stroke="#1a1a1a" stroke-width="0.20">泌尿器科</text>
<text transform="translate(196.80 546.86) scale(1.100 1)" font-size="12.60" fill="#1a1a1a" stroke="#1a1a1a" stroke-width="0.10" text-anchor="end">0</text>
<text transform="translate(250.80 546.86) scale(1.100 1)" font-size="12.60" fill="#1a1a1a" stroke="#1a1a1a" stroke-width="0.10" text-anchor="end">2</text>
<text transform="translate(49.50 563.02) scale(1.0948 1)" font-size="11.60" fill="#1a1a1a" stroke="#1a1a1a" stroke-width="0.20">産婦人科</text>
<text transform="translate(196.80 563.72) scale(1.100 1)" font-size="12.60" fill="#1a1a1a" stroke="#1a1a1a" stroke-width="0.10" text-anchor="end">1</text>
<text transform="translate(250.80 563.72) scale(1.100 1)" font-size="12.60" fill="#1a1a1a" stroke="#1a1a1a" stroke-width="0.10" text-anchor="end">3</text>
<text transform="translate(49.50 579.88) scale(1.0948 1)" font-size="11.60" fill="#1a1a1a" stroke="#1a1a1a" stroke-width="0.20">婦人科</text>
<text transform="translate(196.80 580.58) scale(1.100 1)" font-size="12.60" fill="#1a1a1a" stroke="#1a1a1a" stroke-width="0.10" text-anchor="end">1</text>
<text transform="translate(250.80 580.58) scale(1.100 1)" font-size="12.60" fill="#1a1a1a" stroke="#1a1a1a" stroke-width="0.10" text-anchor="end">3</text>
<text transform="translate(49.50 596.73) scale(1.0948 1)" font-size="11.60" fill="#1a1a1a" stroke="#1a1a1a" stroke-width="0.20">小児科</text>
<text transform="translate(196.80 597.43) scale(1.100 1)" font-size="12.60" fill="#1a1a1a" stroke="#1a1a1a" stroke-width="0.10" text-anchor="end">2</text>
<text transform="translate(250.80 597.43) scale(1.100 1)" font-size="12.60" fill="#1a1a1a" stroke="#1a1a1a" stroke-width="0.10" text-anchor="end">8</text>
<text transform="translate(49.50 613.59) scale(1.0948 1)" font-size="11.60" fill="#1a1a1a" stroke="#1a1a1a" stroke-width="0.20">耳鼻咽喉科</text>
<text transform="translate(196.80 614.29) scale(1.100 1)" font-size="12.60" fill="#1a1a1a" stroke="#1a1a1a" stroke-width="0.10" text-anchor="end">0</text>
<text transform="translate(250.80 614.29) scale(1.100 1)" font-size="12.60" fill="#1a1a1a" stroke="#1a1a1a" stroke-width="0.10" text-anchor="end">1</text>
<text transform="translate(49.50 630.44) scale(1.0948 1)" font-size="11.60" fill="#1a1a1a" stroke="#1a1a1a" stroke-width="0.20"><tspan textLength="47.56" lengthAdjust="spacingAndGlyphs">アレルギー</tspan>科</text>
<text transform="translate(196.80 631.14) scale(1.100 1)" font-size="12.60" fill="#1a1a1a" stroke="#1a1a1a" stroke-width="0.10" text-anchor="end">0</text>
<text transform="translate(250.80 631.14) scale(1.100 1)" font-size="12.60" fill="#1a1a1a" stroke="#1a1a1a" stroke-width="0.10" text-anchor="end">3</text>
<text transform="translate(49.50 647.30) scale(1.0948 1)" font-size="11.60" fill="#1a1a1a" stroke="#1a1a1a" stroke-width="0.20">眼科</text>
<text transform="translate(196.80 648.00) scale(1.100 1)" font-size="12.60" fill="#1a1a1a" stroke="#1a1a1a" stroke-width="0.10" text-anchor="end">3</text>
<text transform="translate(250.80 648.00) scale(1.100 1)" font-size="12.60" fill="#1a1a1a" stroke="#1a1a1a" stroke-width="0.10" text-anchor="end">3</text>
<text transform="translate(465.50 259.61) scale(1.0948 1)" font-size="11.60" fill="#1a1a1a" stroke="#1a1a1a" stroke-width="0.20"><tspan textLength="9.51" lengthAdjust="spacingAndGlyphs">＜</tspan>夜間人口<tspan textLength="27.84" lengthAdjust="spacingAndGlyphs">ベース</tspan><tspan textLength="9.51" lengthAdjust="spacingAndGlyphs">＞</tspan></text>
<text transform="translate(505.35 276.47) scale(1.0948 1)" font-size="11.60" fill="#fff" stroke="#fff" stroke-width="0.00" text-anchor="middle">1次</text>
<text transform="translate(593.60 276.47) scale(1.0948 1)" font-size="11.60" fill="#fff" stroke="#fff" stroke-width="0.00" text-anchor="middle">2次</text>
<text transform="translate(315.30 293.32) scale(1.0948 1)" font-size="11.60" fill="#1a1a1a" stroke="#1a1a1a" stroke-width="0.20">外来／内科</text>
<text transform="translate(542.90 294.02) scale(1.100 1)" font-size="12.60" fill="#1a1a1a" stroke="#1a1a1a" stroke-width="0.10" text-anchor="end">15.7</text>
<text transform="translate(631.80 294.02) scale(1.100 1)" font-size="12.60" fill="#1a1a1a" stroke="#1a1a1a" stroke-width="0.10" text-anchor="end">21.7</text>
<text transform="translate(315.30 310.18) scale(1.0948 1)" font-size="11.60" fill="#1a1a1a" stroke="#1a1a1a" stroke-width="0.20">外来／循環器内科</text>
<text transform="translate(542.90 310.88) scale(1.100 1)" font-size="12.60" fill="#1a1a1a" stroke="#1a1a1a" stroke-width="0.10" text-anchor="end">3.4</text>
<text transform="translate(631.80 310.88) scale(1.100 1)" font-size="12.60" fill="#1a1a1a" stroke="#1a1a1a" stroke-width="0.10" text-anchor="end">6.2</text>
<text transform="translate(315.30 327.04) scale(1.0948 1)" font-size="11.60" fill="#1a1a1a" stroke="#1a1a1a" stroke-width="0.20">外来／呼吸器内科</text>
<text transform="translate(542.90 327.74) scale(1.100 1)" font-size="12.60" fill="#1a1a1a" stroke="#1a1a1a" stroke-width="0.10" text-anchor="end">1.3</text>
<text transform="translate(631.80 327.74) scale(1.100 1)" font-size="12.60" fill="#1a1a1a" stroke="#1a1a1a" stroke-width="0.10" text-anchor="end">5.3</text>
<text transform="translate(315.30 343.89) scale(1.0948 1)" font-size="11.60" fill="#1a1a1a" stroke="#1a1a1a" stroke-width="0.20">外来／消化器内科</text>
<text transform="translate(542.90 344.59) scale(1.100 1)" font-size="12.60" fill="#1a1a1a" stroke="#1a1a1a" stroke-width="0.10" text-anchor="end">2.4</text>
<text transform="translate(631.80 344.59) scale(1.100 1)" font-size="12.60" fill="#1a1a1a" stroke="#1a1a1a" stroke-width="0.10" text-anchor="end">3.6</text>
<text transform="translate(315.30 360.75) scale(1.0948 1)" font-size="11.60" fill="#1a1a1a" stroke="#1a1a1a" stroke-width="0.20">外来／糖尿病内科</text>
<text transform="translate(542.90 361.45) scale(1.100 1)" font-size="12.60" fill="#1a1a1a" stroke="#1a1a1a" stroke-width="0.10" text-anchor="end">2.1</text>
<text transform="translate(631.80 361.45) scale(1.100 1)" font-size="12.60" fill="#1a1a1a" stroke="#1a1a1a" stroke-width="0.10" text-anchor="end">5.3</text>
<text transform="translate(315.30 377.60) scale(1.0948 1)" font-size="11.60" fill="#1a1a1a" stroke="#1a1a1a" stroke-width="0.20">外来／腎臓内科</text>
<text transform="translate(542.90 378.30) scale(1.100 1)" font-size="12.60" fill="#1a1a1a" stroke="#1a1a1a" stroke-width="0.10" text-anchor="end">2.3</text>
<text transform="translate(631.80 378.30) scale(1.100 1)" font-size="12.60" fill="#1a1a1a" stroke="#1a1a1a" stroke-width="0.10" text-anchor="end">9.4</text>
<text transform="translate(315.30 394.46) scale(1.0948 1)" font-size="11.60" fill="#1a1a1a" stroke="#1a1a1a" stroke-width="0.20">外来／心療内科</text>
<text transform="translate(542.90 395.16) scale(1.100 1)" font-size="12.60" fill="#1a1a1a" stroke="#1a1a1a" stroke-width="0.10" text-anchor="end">0.4</text>
<text transform="translate(631.80 395.16) scale(1.100 1)" font-size="12.60" fill="#1a1a1a" stroke="#1a1a1a" stroke-width="0.10" text-anchor="end">1.3</text>
<text transform="translate(315.30 411.32) scale(1.0948 1)" font-size="11.60" fill="#1a1a1a" stroke="#1a1a1a" stroke-width="0.20">外来／精神科</text>
<text transform="translate(542.90 412.02) scale(1.100 1)" font-size="12.60" fill="#1a1a1a" stroke="#1a1a1a" stroke-width="0.10" text-anchor="end">1.4</text>
<text transform="translate(631.80 412.02) scale(1.100 1)" font-size="12.60" fill="#1a1a1a" stroke="#1a1a1a" stroke-width="0.10" text-anchor="end">3.6</text>
<text transform="translate(315.30 428.17) scale(1.0948 1)" font-size="11.60" fill="#1a1a1a" stroke="#1a1a1a" stroke-width="0.20">外来／外科</text>
<text transform="translate(542.90 428.87) scale(1.100 1)" font-size="12.60" fill="#1a1a1a" stroke="#1a1a1a" stroke-width="0.10" text-anchor="end">2.9</text>
<text transform="translate(631.80 428.87) scale(1.100 1)" font-size="12.60" fill="#1a1a1a" stroke="#1a1a1a" stroke-width="0.10" text-anchor="end">5.7</text>
<text transform="translate(315.30 445.03) scale(1.0948 1)" font-size="11.60" fill="#1a1a1a" stroke="#1a1a1a" stroke-width="0.20">外来／乳腺外科</text>
<text transform="translate(542.90 445.73) scale(1.100 1)" font-size="12.60" fill="#1a1a1a" stroke="#1a1a1a" stroke-width="0.10" text-anchor="end">0.6</text>
<text transform="translate(631.80 445.73) scale(1.100 1)" font-size="12.60" fill="#1a1a1a" stroke="#1a1a1a" stroke-width="0.10" text-anchor="end">1.4</text>
<text transform="translate(315.30 461.88) scale(1.0948 1)" font-size="11.60" fill="#1a1a1a" stroke="#1a1a1a" stroke-width="0.20">外来／整形外科</text>
<text transform="translate(542.90 462.58) scale(1.100 1)" font-size="12.60" fill="#1a1a1a" stroke="#1a1a1a" stroke-width="0.10" text-anchor="end">16.2</text>
<text transform="translate(631.80 462.58) scale(1.100 1)" font-size="12.60" fill="#1a1a1a" stroke="#1a1a1a" stroke-width="0.10" text-anchor="end">39.6</text>
<text transform="translate(315.30 478.74) scale(1.0948 1)" font-size="11.60" fill="#1a1a1a" stroke="#1a1a1a" stroke-width="0.20">外来／<tspan textLength="33.18" lengthAdjust="spacingAndGlyphs">リウマチ</tspan>科</text>
<text transform="translate(542.90 479.44) scale(1.100 1)" font-size="12.60" fill="#1a1a1a" stroke="#1a1a1a" stroke-width="0.10" text-anchor="end">0.3</text>
<text transform="translate(631.80 479.44) scale(1.100 1)" font-size="12.60" fill="#1a1a1a" stroke="#1a1a1a" stroke-width="0.10" text-anchor="end">0.9</text>
<text transform="translate(315.30 495.60) scale(1.0948 1)" font-size="11.60" fill="#1a1a1a" stroke="#1a1a1a" stroke-width="0.20">外来／<tspan textLength="73.60" lengthAdjust="spacingAndGlyphs">リハビリテーション</tspan>科</text>
<text transform="translate(542.90 496.30) scale(1.100 1)" font-size="12.60" fill="#1a1a1a" stroke="#1a1a1a" stroke-width="0.10" text-anchor="end">0.2</text>
<text transform="translate(631.80 496.30) scale(1.100 1)" font-size="12.60" fill="#1a1a1a" stroke="#1a1a1a" stroke-width="0.10" text-anchor="end">0.3</text>
<text transform="translate(315.30 512.45) scale(1.0948 1)" font-size="11.60" fill="#1a1a1a" stroke="#1a1a1a" stroke-width="0.20">外来／脳神経外科</text>
<text transform="translate(542.90 513.15) scale(1.100 1)" font-size="12.60" fill="#1a1a1a" stroke="#1a1a1a" stroke-width="0.10" text-anchor="end">4.1</text>
<text transform="translate(631.80 513.15) scale(1.100 1)" font-size="12.60" fill="#1a1a1a" stroke="#1a1a1a" stroke-width="0.10" text-anchor="end">10.1</text>
<text transform="translate(315.30 529.31) scale(1.0948 1)" font-size="11.60" fill="#1a1a1a" stroke="#1a1a1a" stroke-width="0.20">外来／皮膚科</text>
<text transform="translate(542.90 530.01) scale(1.100 1)" font-size="12.60" fill="#1a1a1a" stroke="#1a1a1a" stroke-width="0.10" text-anchor="end">3.7</text>
<text transform="translate(631.80 530.01) scale(1.100 1)" font-size="12.60" fill="#1a1a1a" stroke="#1a1a1a" stroke-width="0.10" text-anchor="end">10.1</text>
<text transform="translate(315.30 546.16) scale(1.0948 1)" font-size="11.60" fill="#1a1a1a" stroke="#1a1a1a" stroke-width="0.20">外来／泌尿器科</text>
<text transform="translate(542.90 546.86) scale(1.100 1)" font-size="12.60" fill="#1a1a1a" stroke="#1a1a1a" stroke-width="0.10" text-anchor="end">5.3</text>
<text transform="translate(631.80 546.86) scale(1.100 1)" font-size="12.60" fill="#1a1a1a" stroke="#1a1a1a" stroke-width="0.10" text-anchor="end">9.4</text>
<text transform="translate(315.30 563.02) scale(1.0948 1)" font-size="11.60" fill="#1a1a1a" stroke="#1a1a1a" stroke-width="0.20">外来／産婦人科</text>
<text transform="translate(542.90 563.72) scale(1.100 1)" font-size="12.60" fill="#1a1a1a" stroke="#1a1a1a" stroke-width="0.10" text-anchor="end">3.2</text>
<text transform="translate(631.80 563.72) scale(1.100 1)" font-size="12.60" fill="#1a1a1a" stroke="#1a1a1a" stroke-width="0.10" text-anchor="end">6.7</text>
<text transform="translate(315.30 579.88) scale(1.0948 1)" font-size="11.60" fill="#1a1a1a" stroke="#1a1a1a" stroke-width="0.20">外来／婦人科</text>
<text transform="translate(542.90 580.58) scale(1.100 1)" font-size="12.60" fill="#1a1a1a" stroke="#1a1a1a" stroke-width="0.10" text-anchor="end">0.9</text>
<text transform="translate(631.80 580.58) scale(1.100 1)" font-size="12.60" fill="#1a1a1a" stroke="#1a1a1a" stroke-width="0.10" text-anchor="end">1.8</text>
<text transform="translate(315.30 596.73) scale(1.0948 1)" font-size="11.60" fill="#1a1a1a" stroke="#1a1a1a" stroke-width="0.20">外来／小児科</text>
<text transform="translate(542.90 597.43) scale(1.100 1)" font-size="12.60" fill="#1a1a1a" stroke="#1a1a1a" stroke-width="0.10" text-anchor="end">3.8</text>
<text transform="translate(631.80 597.43) scale(1.100 1)" font-size="12.60" fill="#1a1a1a" stroke="#1a1a1a" stroke-width="0.10" text-anchor="end">5.2</text>
<text transform="translate(315.30 613.59) scale(1.0948 1)" font-size="11.60" fill="#1a1a1a" stroke="#1a1a1a" stroke-width="0.20">外来／耳鼻咽喉科</text>
<text transform="translate(542.90 614.29) scale(1.100 1)" font-size="12.60" fill="#1a1a1a" stroke="#1a1a1a" stroke-width="0.10" text-anchor="end">13.1</text>
<text transform="translate(631.80 614.29) scale(1.100 1)" font-size="12.60" fill="#1a1a1a" stroke="#1a1a1a" stroke-width="0.10" text-anchor="end">34.0</text>
<text transform="translate(315.30 630.44) scale(1.0948 1)" font-size="11.60" fill="#1a1a1a" stroke="#1a1a1a" stroke-width="0.20">外来／<tspan textLength="47.56" lengthAdjust="spacingAndGlyphs">アレルギー</tspan>科</text>
<text transform="translate(542.90 631.14) scale(1.100 1)" font-size="12.60" fill="#1a1a1a" stroke="#1a1a1a" stroke-width="0.10" text-anchor="end">0.1</text>
<text transform="translate(631.80 631.14) scale(1.100 1)" font-size="12.60" fill="#1a1a1a" stroke="#1a1a1a" stroke-width="0.10" text-anchor="end">0.2</text>
<text transform="translate(315.30 647.30) scale(1.0948 1)" font-size="11.60" fill="#1a1a1a" stroke="#1a1a1a" stroke-width="0.20">外来／眼科</text>
<text transform="translate(542.90 648.00) scale(1.100 1)" font-size="12.60" fill="#1a1a1a" stroke="#1a1a1a" stroke-width="0.10" text-anchor="end">5.5</text>
<text transform="translate(631.80 648.00) scale(1.100 1)" font-size="12.60" fill="#1a1a1a" stroke="#1a1a1a" stroke-width="0.10" text-anchor="end">19.7</text>
<text transform="translate(846.00 259.61) scale(1.0948 1)" font-size="11.60" fill="#1a1a1a" stroke="#1a1a1a" stroke-width="0.20"><tspan textLength="9.51" lengthAdjust="spacingAndGlyphs">＜</tspan>昼間人口<tspan textLength="27.84" lengthAdjust="spacingAndGlyphs">ベース</tspan><tspan textLength="9.51" lengthAdjust="spacingAndGlyphs">＞</tspan></text>
<text transform="translate(696.20 276.47) scale(1.0948 1)" font-size="11.60" fill="#1a1a1a" stroke="#1a1a1a" stroke-width="0.20">単位：人／日</text>
<text transform="translate(882.90 276.47) scale(1.0948 1)" font-size="11.60" fill="#1a1a1a" stroke="#1a1a1a" stroke-width="0.20" text-anchor="middle">1次</text>
<text transform="translate(968.65 276.47) scale(1.0948 1)" font-size="11.60" fill="#1a1a1a" stroke="#1a1a1a" stroke-width="0.20" text-anchor="middle">2次</text>
<text transform="translate(696.20 293.32) scale(1.0948 1)" font-size="11.60" fill="#1a1a1a" stroke="#1a1a1a" stroke-width="0.20">外来／内科</text>
<text transform="translate(917.50 294.02) scale(1.100 1)" font-size="12.60" fill="#1a1a1a" stroke="#1a1a1a" stroke-width="0.10" text-anchor="end">37.4</text>
<text transform="translate(1005.80 294.02) scale(1.100 1)" font-size="12.60" fill="#1a1a1a" stroke="#1a1a1a" stroke-width="0.10" text-anchor="end">33.3</text>
<text transform="translate(696.20 310.18) scale(1.0948 1)" font-size="11.60" fill="#1a1a1a" stroke="#1a1a1a" stroke-width="0.20">外来／循環器内科</text>
<text transform="translate(917.50 310.88) scale(1.100 1)" font-size="12.60" fill="#1a1a1a" stroke="#1a1a1a" stroke-width="0.10" text-anchor="end">7.0</text>
<text transform="translate(1005.80 310.88) scale(1.100 1)" font-size="12.60" fill="#1a1a1a" stroke="#1a1a1a" stroke-width="0.10" text-anchor="end">8.2</text>
<text transform="translate(696.20 327.04) scale(1.0948 1)" font-size="11.60" fill="#1a1a1a" stroke="#1a1a1a" stroke-width="0.20">外来／呼吸器内科</text>
<text transform="translate(917.50 327.74) scale(1.100 1)" font-size="12.60" fill="#1a1a1a" stroke="#1a1a1a" stroke-width="0.10" text-anchor="end">3.3</text>
<text transform="translate(1005.80 327.74) scale(1.100 1)" font-size="12.60" fill="#1a1a1a" stroke="#1a1a1a" stroke-width="0.10" text-anchor="end">8.4</text>
<text transform="translate(696.20 343.89) scale(1.0948 1)" font-size="11.60" fill="#1a1a1a" stroke="#1a1a1a" stroke-width="0.20">外来／消化器内科</text>
<text transform="translate(917.50 344.59) scale(1.100 1)" font-size="12.60" fill="#1a1a1a" stroke="#1a1a1a" stroke-width="0.10" text-anchor="end">5.8</text>
<text transform="translate(1005.80 344.59) scale(1.100 1)" font-size="12.60" fill="#1a1a1a" stroke="#1a1a1a" stroke-width="0.10" text-anchor="end">5.7</text>
<text transform="translate(696.20 360.75) scale(1.0948 1)" font-size="11.60" fill="#1a1a1a" stroke="#1a1a1a" stroke-width="0.20">外来／糖尿病内科</text>
<text transform="translate(917.50 361.45) scale(1.100 1)" font-size="12.60" fill="#1a1a1a" stroke="#1a1a1a" stroke-width="0.10" text-anchor="end">4.4</text>
<text transform="translate(1005.80 361.45) scale(1.100 1)" font-size="12.60" fill="#1a1a1a" stroke="#1a1a1a" stroke-width="0.10" text-anchor="end">7.3</text>
<text transform="translate(696.20 377.60) scale(1.0948 1)" font-size="11.60" fill="#1a1a1a" stroke="#1a1a1a" stroke-width="0.20">外来／腎臓内科</text>
<text transform="translate(917.50 378.30) scale(1.100 1)" font-size="12.60" fill="#1a1a1a" stroke="#1a1a1a" stroke-width="0.10" text-anchor="end">4.9</text>
<text transform="translate(1005.80 378.30) scale(1.100 1)" font-size="12.60" fill="#1a1a1a" stroke="#1a1a1a" stroke-width="0.10" text-anchor="end">12.5</text>
<text transform="translate(696.20 394.46) scale(1.0948 1)" font-size="11.60" fill="#1a1a1a" stroke="#1a1a1a" stroke-width="0.20">外来／心療内科</text>
<text transform="translate(917.50 395.16) scale(1.100 1)" font-size="12.60" fill="#1a1a1a" stroke="#1a1a1a" stroke-width="0.10" text-anchor="end">1.0</text>
<text transform="translate(1005.80 395.16) scale(1.100 1)" font-size="12.60" fill="#1a1a1a" stroke="#1a1a1a" stroke-width="0.10" text-anchor="end">2.1</text>
<text transform="translate(696.20 411.32) scale(1.0948 1)" font-size="11.60" fill="#1a1a1a" stroke="#1a1a1a" stroke-width="0.20">外来／精神科</text>
<text transform="translate(917.50 412.02) scale(1.100 1)" font-size="12.60" fill="#1a1a1a" stroke="#1a1a1a" stroke-width="0.10" text-anchor="end">3.8</text>
<text transform="translate(1005.80 412.02) scale(1.100 1)" font-size="12.60" fill="#1a1a1a" stroke="#1a1a1a" stroke-width="0.10" text-anchor="end">6.1</text>
<text transform="translate(696.20 428.17) scale(1.0948 1)" font-size="11.60" fill="#1a1a1a" stroke="#1a1a1a" stroke-width="0.20">外来／外科</text>
<text transform="translate(917.50 428.87) scale(1.100 1)" font-size="12.60" fill="#1a1a1a" stroke="#1a1a1a" stroke-width="0.10" text-anchor="end">7.0</text>
<text transform="translate(1005.80 428.87) scale(1.100 1)" font-size="12.60" fill="#1a1a1a" stroke="#1a1a1a" stroke-width="0.10" text-anchor="end">8.7</text>
<text transform="translate(696.20 445.03) scale(1.0948 1)" font-size="11.60" fill="#1a1a1a" stroke="#1a1a1a" stroke-width="0.20">外来／乳腺外科</text>
<text transform="translate(917.50 445.73) scale(1.100 1)" font-size="12.60" fill="#1a1a1a" stroke="#1a1a1a" stroke-width="0.10" text-anchor="end">1.4</text>
<text transform="translate(1005.80 445.73) scale(1.100 1)" font-size="12.60" fill="#1a1a1a" stroke="#1a1a1a" stroke-width="0.10" text-anchor="end">2.5</text>
<text transform="translate(696.20 461.88) scale(1.0948 1)" font-size="11.60" fill="#1a1a1a" stroke="#1a1a1a" stroke-width="0.20">外来／整形外科</text>
<text transform="translate(917.50 462.58) scale(1.100 1)" font-size="12.60" fill="#1a1a1a" stroke="#1a1a1a" stroke-width="0.10" text-anchor="end">36.0</text>
<text transform="translate(1005.80 462.58) scale(1.100 1)" font-size="12.60" fill="#1a1a1a" stroke="#1a1a1a" stroke-width="0.10" text-anchor="end">56.3</text>
<text transform="translate(696.20 478.74) scale(1.0948 1)" font-size="11.60" fill="#1a1a1a" stroke="#1a1a1a" stroke-width="0.20">外来／<tspan textLength="33.18" lengthAdjust="spacingAndGlyphs">リウマチ</tspan>科</text>
<text transform="translate(917.50 479.44) scale(1.100 1)" font-size="12.60" fill="#1a1a1a" stroke="#1a1a1a" stroke-width="0.10" text-anchor="end">0.6</text>
<text transform="translate(1005.80 479.44) scale(1.100 1)" font-size="12.60" fill="#1a1a1a" stroke="#1a1a1a" stroke-width="0.10" text-anchor="end">1.3</text>
<text transform="translate(696.20 495.60) scale(1.0948 1)" font-size="11.60" fill="#1a1a1a" stroke="#1a1a1a" stroke-width="0.20">外来／<tspan textLength="73.60" lengthAdjust="spacingAndGlyphs">リハビリテーション</tspan>科</text>
<text transform="translate(917.50 496.30) scale(1.100 1)" font-size="12.60" fill="#1a1a1a" stroke="#1a1a1a" stroke-width="0.10" text-anchor="end">0.4</text>
<text transform="translate(1005.80 496.30) scale(1.100 1)" font-size="12.60" fill="#1a1a1a" stroke="#1a1a1a" stroke-width="0.10" text-anchor="end">0.5</text>
<text transform="translate(696.20 512.45) scale(1.0948 1)" font-size="11.60" fill="#1a1a1a" stroke="#1a1a1a" stroke-width="0.20">外来／脳神経外科</text>
<text transform="translate(917.50 513.15) scale(1.100 1)" font-size="12.60" fill="#1a1a1a" stroke="#1a1a1a" stroke-width="0.10" text-anchor="end">7.4</text>
<text transform="translate(1005.80 513.15) scale(1.100 1)" font-size="12.60" fill="#1a1a1a" stroke="#1a1a1a" stroke-width="0.10" text-anchor="end">11.6</text>
<text transform="translate(696.20 529.31) scale(1.0948 1)" font-size="11.60" fill="#1a1a1a" stroke="#1a1a1a" stroke-width="0.20">外来／皮膚科</text>
<text transform="translate(917.50 530.01) scale(1.100 1)" font-size="12.60" fill="#1a1a1a" stroke="#1a1a1a" stroke-width="0.10" text-anchor="end">10.4</text>
<text transform="translate(1005.80 530.01) scale(1.100 1)" font-size="12.60" fill="#1a1a1a" stroke="#1a1a1a" stroke-width="0.10" text-anchor="end">17.7</text>
<text transform="translate(696.20 546.16) scale(1.0948 1)" font-size="11.60" fill="#1a1a1a" stroke="#1a1a1a" stroke-width="0.20">外来／泌尿器科</text>
<text transform="translate(917.50 546.86) scale(1.100 1)" font-size="12.60" fill="#1a1a1a" stroke="#1a1a1a" stroke-width="0.10" text-anchor="end">12.1</text>
<text transform="translate(1005.80 546.86) scale(1.100 1)" font-size="12.60" fill="#1a1a1a" stroke="#1a1a1a" stroke-width="0.10" text-anchor="end">13.7</text>
<text transform="translate(696.20 563.02) scale(1.0948 1)" font-size="11.60" fill="#1a1a1a" stroke="#1a1a1a" stroke-width="0.20">外来／産婦人科</text>
<text transform="translate(917.50 563.72) scale(1.100 1)" font-size="12.60" fill="#1a1a1a" stroke="#1a1a1a" stroke-width="0.10" text-anchor="end">8.0</text>
<text transform="translate(1005.80 563.72) scale(1.100 1)" font-size="12.60" fill="#1a1a1a" stroke="#1a1a1a" stroke-width="0.10" text-anchor="end">11.1</text>
<text transform="translate(696.20 579.88) scale(1.0948 1)" font-size="11.60" fill="#1a1a1a" stroke="#1a1a1a" stroke-width="0.20">外来／婦人科</text>
<text transform="translate(917.50 580.58) scale(1.100 1)" font-size="12.60" fill="#1a1a1a" stroke="#1a1a1a" stroke-width="0.10" text-anchor="end">2.4</text>
<text transform="translate(1005.80 580.58) scale(1.100 1)" font-size="12.60" fill="#1a1a1a" stroke="#1a1a1a" stroke-width="0.10" text-anchor="end">3.1</text>
<text transform="translate(696.20 596.73) scale(1.0948 1)" font-size="11.60" fill="#1a1a1a" stroke="#1a1a1a" stroke-width="0.20">外来／小児科</text>
<text transform="translate(917.50 597.43) scale(1.100 1)" font-size="12.60" fill="#1a1a1a" stroke="#1a1a1a" stroke-width="0.10" text-anchor="end">13.1</text>
<text transform="translate(1005.80 597.43) scale(1.100 1)" font-size="12.60" fill="#1a1a1a" stroke="#1a1a1a" stroke-width="0.10" text-anchor="end">11.3</text>
<text transform="translate(696.20 613.59) scale(1.0948 1)" font-size="11.60" fill="#1a1a1a" stroke="#1a1a1a" stroke-width="0.20">外来／耳鼻咽喉科</text>
<text transform="translate(917.50 614.29) scale(1.100 1)" font-size="12.60" fill="#1a1a1a" stroke="#1a1a1a" stroke-width="0.10" text-anchor="end">35.7</text>
<text transform="translate(1005.80 614.29) scale(1.100 1)" font-size="12.60" fill="#1a1a1a" stroke="#1a1a1a" stroke-width="0.10" text-anchor="end">59.0</text>
<text transform="translate(696.20 630.44) scale(1.0948 1)" font-size="11.60" fill="#1a1a1a" stroke="#1a1a1a" stroke-width="0.20">外来／<tspan textLength="47.56" lengthAdjust="spacingAndGlyphs">アレルギー</tspan>科</text>
<text transform="translate(917.50 631.14) scale(1.100 1)" font-size="12.60" fill="#1a1a1a" stroke="#1a1a1a" stroke-width="0.10" text-anchor="end">0.4</text>
<text transform="translate(1005.80 631.14) scale(1.100 1)" font-size="12.60" fill="#1a1a1a" stroke="#1a1a1a" stroke-width="0.10" text-anchor="end">0.4</text>
<text transform="translate(696.20 647.30) scale(1.0948 1)" font-size="11.60" fill="#1a1a1a" stroke="#1a1a1a" stroke-width="0.20">外来／眼科</text>
<text transform="translate(917.50 648.00) scale(1.100 1)" font-size="12.60" fill="#1a1a1a" stroke="#1a1a1a" stroke-width="0.10" text-anchor="end">12.5</text>
<text transform="translate(1005.80 648.00) scale(1.100 1)" font-size="12.60" fill="#1a1a1a" stroke="#1a1a1a" stroke-width="0.10" text-anchor="end">28.7</text>
<defs><filter id="soft" x="-5%" y="-10%" width="110%" height="120%"><feGaussianBlur stdDeviation="0.9"/></filter></defs>
<ellipse cx="1148.5" cy="304.5" rx="105.8" ry="37.1" fill="#FFFAA5" filter="url(#soft)" transform="rotate(-20.5 1148.5 304.5)"/>
<ellipse cx="1148.2" cy="427.1" rx="105.4" ry="35" fill="#FFFAA5" filter="url(#soft)" transform="rotate(-20.3 1148.2 427.1)"/>
<text y="274.40" font-size="17.20" fill="#111" stroke="#111" stroke-width="0.2"><tspan x="1054.36" textLength="18.09" lengthAdjust="spacingAndGlyphs">①</tspan><tspan x="1072.62" textLength="76.99" lengthAdjust="spacingAndGlyphs">昼間人口</tspan><tspan x="1148.87" textLength="59.18" lengthAdjust="spacingAndGlyphs">のほうが</tspan></text>
<text y="296.80" font-size="17.20" fill="#111" stroke="#111" stroke-width="0.2"><tspan x="1065.26" textLength="88.69" lengthAdjust="spacingAndGlyphs">ボリュームが</tspan><tspan x="1154.35" textLength="17.82" lengthAdjust="spacingAndGlyphs">多</tspan><tspan x="1172.12" textLength="54.84" lengthAdjust="spacingAndGlyphs">いエリア</tspan><tspan x="1226.68" textLength="18.06" lengthAdjust="spacingAndGlyphs">。</tspan></text>
<text y="319.20" font-size="17.20" fill="#111" stroke="#111" stroke-width="0.2"><tspan x="1066.03" textLength="76.26" lengthAdjust="spacingAndGlyphs">昼間人口</tspan><tspan x="1141.71" textLength="85.88" lengthAdjust="spacingAndGlyphs">のターゲット</tspan></text>
<text y="341.60" font-size="17.20" fill="#111" stroke="#111" stroke-width="0.2"><tspan x="1065.32" textLength="39.26" lengthAdjust="spacingAndGlyphs">患者</tspan><tspan x="1103.46" textLength="61.47" lengthAdjust="spacingAndGlyphs">をいかに</tspan><tspan x="1164.19" textLength="20.21" lengthAdjust="spacingAndGlyphs">取</tspan><tspan x="1183.37" textLength="12.07" lengthAdjust="spacingAndGlyphs">り</tspan><tspan x="1194.90" textLength="19.89" lengthAdjust="spacingAndGlyphs">込</tspan><tspan x="1213.78" textLength="18.05" lengthAdjust="spacingAndGlyphs">め</tspan></text>
<text y="364.00" font-size="17.20" fill="#111" stroke="#111" stroke-width="0.2"><tspan x="1064.66" textLength="104.64" lengthAdjust="spacingAndGlyphs">るかがポイント</tspan><tspan x="1168.37" textLength="18.06" lengthAdjust="spacingAndGlyphs">！</tspan></text>
<text y="408.80" font-size="17.20" fill="#111" stroke="#111" stroke-width="0.2"><tspan x="1053.54" textLength="18.72" lengthAdjust="spacingAndGlyphs">②</tspan><tspan x="1072.81" textLength="39.58" lengthAdjust="spacingAndGlyphs">半径</tspan><tspan x="1112.98" textLength="38.22" lengthAdjust="spacingAndGlyphs">1km</tspan><tspan x="1151.13" textLength="38.32" lengthAdjust="spacingAndGlyphs">以上</tspan><tspan x="1188.36" textLength="17.07" lengthAdjust="spacingAndGlyphs">の</tspan></text>
<text y="431.20" font-size="17.20" fill="#111" stroke="#111" stroke-width="0.2"><tspan x="1066.21" textLength="39.58" lengthAdjust="spacingAndGlyphs">集患</tspan><tspan x="1105.61" textLength="14.36" lengthAdjust="spacingAndGlyphs">も</tspan><tspan x="1118.34" textLength="77.23" lengthAdjust="spacingAndGlyphs">十分見込</tspan><tspan x="1194.14" textLength="30.17" lengthAdjust="spacingAndGlyphs">める</tspan></text>
<text y="453.60" font-size="17.20" fill="#111" stroke="#111" stroke-width="0.2"><tspan x="1066.33" textLength="58.44" lengthAdjust="spacingAndGlyphs">可能性</tspan><tspan x="1123.94" textLength="42.11" lengthAdjust="spacingAndGlyphs">もあり</tspan><tspan x="1165.37" textLength="18.06" lengthAdjust="spacingAndGlyphs">！</tspan></text>
<g transform="translate(1055 165) scale(0.11804)">
<g fill="#FBE9DC" stroke="#6B3F1D" stroke-width="16" stroke-linejoin="round" stroke-linecap="round">
<path d="M185 295 C170 240 150 180 140 130 C130 80 165 45 205 45 C250 45 285 75 292 120 C298 200 303 300 318 405 C340 405 365 380 390 350 C415 325 455 318 485 335 C510 355 500 390 480 415 C450 450 420 490 395 530 C370 565 340 600 295 635 C270 655 230 672 185 670 C140 668 100 645 75 610 L88 602 C60 570 40 520 48 470 C58 400 100 340 150 312 C160 305 172 298 185 295 Z"/>
</g>
<g fill="none" stroke="#6B3F1D" stroke-width="16" stroke-linejoin="round" stroke-linecap="round">
<path d="M150 312 C200 298 272 318 298 385 C310 420 300 452 285 478 C265 512 240 536 212 552"/>
<path d="M150 378 C200 368 262 386 290 442"/>
<path d="M105 442 C160 432 226 450 236 500 C239 536 205 560 170 550 C150 543 147 526 158 515"/>
<path d="M90 512 C115 505 140 508 155 522"/>
<path d="M95 590 L136 613"/>
<path d="M232 630 C252 640 274 642 292 637"/>
</g>
</g>
<g transform="translate(1040 150) scale(0.13889)">
<g fill="#1CBC60">
<ellipse cx="597" cy="213" rx="206" ry="118" transform="rotate(13 597 213)"/>
<path d="M515 290 L498 350 L600 322 Z"/>
</g>
<text x="0" y="0" transform="translate(444 215) rotate(17)" font-size="110" font-weight="700" font-style="italic" fill="#EFFFF4" letter-spacing="5">Point</text>
</g>
<defs><clipPath id="lgclip"><rect x="1064.1" y="30" width="30.3" height="30.8"/></clipPath></defs>
<rect x="1064.1" y="30" width="30.3" height="30.8" fill="#0A6B36"/>
<g stroke="#FFF000" stroke-width="2.7" stroke-linecap="round" clip-path="url(#lgclip)">
<line x1="1077.85" y1="45.80" x2="1074.95" y2="52.37"/>
<line x1="1076.46" y1="45.24" x2="1070.94" y2="50.82"/>
<line x1="1075.35" y1="44.35" x2="1067.75" y2="48.41"/>
<line x1="1074.64" y1="43.24" x2="1065.70" y2="45.37"/>
<line x1="1074.40" y1="42.00" x2="1065.00" y2="42.00"/>
<line x1="1074.64" y1="40.76" x2="1065.70" y2="38.63"/>
<line x1="1075.35" y1="39.65" x2="1067.75" y2="35.59"/>
<line x1="1076.46" y1="38.76" x2="1070.94" y2="33.18"/>
<line x1="1077.85" y1="38.20" x2="1074.95" y2="31.63"/>
<line x1="1079.40" y1="38.00" x2="1079.40" y2="31.10"/>
<line x1="1080.95" y1="38.20" x2="1083.85" y2="31.63"/>
<line x1="1082.34" y1="38.76" x2="1087.86" y2="33.18"/>
<line x1="1083.45" y1="39.65" x2="1091.05" y2="35.59"/>
<line x1="1084.16" y1="40.76" x2="1093.10" y2="38.63"/>
<line x1="1084.40" y1="42.00" x2="1093.80" y2="42.00"/>
<line x1="1084.16" y1="43.24" x2="1093.10" y2="45.37"/>
<line x1="1083.45" y1="44.35" x2="1091.05" y2="48.41"/>
<line x1="1082.34" y1="45.24" x2="1087.86" y2="50.82"/>
<line x1="1080.95" y1="45.80" x2="1083.85" y2="52.37"/>
</g>
<ellipse cx="1079.4" cy="42.0" rx="9.2" ry="7.6" fill="#FFF000"/>
<rect x="1078.0" y="48" width="2.3" height="12.8" fill="#FFF000"/>
<text x="1098.0" y="55.3" font-size="29" font-weight="900" fill="#FFF000" stroke="#0A6B36" stroke-width="5.2" stroke-linejoin="round" paint-order="stroke" textLength="148.6" lengthAdjust="spacingAndGlyphs">たんぽぽ薬局</text>
<rect x="0" y="687" width="1280" height="33" fill="#00693A"/>
<ellipse cx="1244.7" cy="687.5" rx="21.5" ry="20.6" fill="#FFFF00" stroke="#EE1111" stroke-width="3.8"/>
<text transform="translate(1244.7 695.6) scale(1.15 1)" font-size="19.3" font-weight="700" fill="#000" text-anchor="middle">6</text>
</svg>
</body></html>
